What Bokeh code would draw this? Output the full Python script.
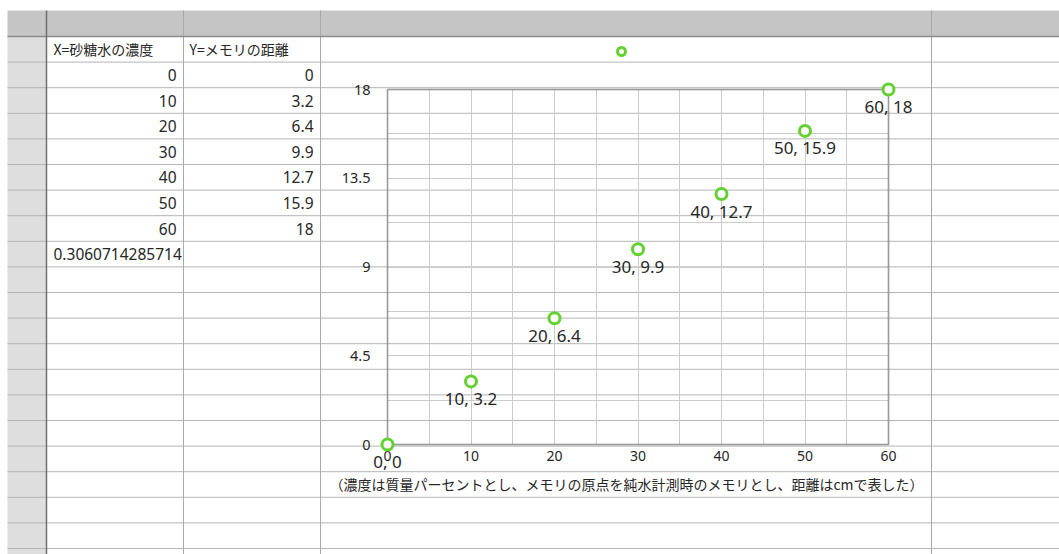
import numpy as np
from bokeh.plotting import figure
from bokeh.models import (Range1d, LinearAxis, Grid, SingleIntervalTicker, BoxAnnotation,
                          ColumnDataSource, Legend, LegendItem, NumeralTickFormatter)
from bokeh.core.properties import value
from bokeh.embed import file_html
from bokeh.resources import INLINE

# measurements: sugar-water concentration (%) vs. scale reading (cm)
concentration = [0, 10, 20, 30, 40, 50, 60]
distance = [0, 3.2, 6.4, 9.9, 12.7, 15.9, 18]

x_header = "X=砂糖水の濃度"
y_header = "Y=メモリの距離"
note = "（濃度は質量パーセントとし、メモリの原点を純水計測時のメモリとし、距離はcmで表した）"

# axis extents and tick spacing
X_LO, X_HI, X_STEP, X_GRID = 0, 60, 10, 5
Y_LO, Y_HI, Y_STEP, Y_GRID = 0, 18, 4.5, 2.25

# least-squares slope shown under the table
xa = np.array(concentration, dtype=float)
ya = np.array(distance, dtype=float)
slope = ((xa - xa.mean()) * (ya - ya.mean())).sum() / ((xa - xa.mean()) ** 2).sum()
slope_text = f"{slope:.13f}"

# ---- page layout (pixels) ----
W, H = 1059, 554
PLOT_L, PLOT_R, PLOT_T, PLOT_B = 387, 888, 89, 444
SHEET_L, HEAD_T, HEAD_B = 7, 10, 36
ROW_H = 25.6
ROWHDR_R = 46
COL_LINES = [183, 320, 931]
COL1_TXT_L, COL1_TXT_R = 53, 176
COL2_TXT_L, COL2_TXT_R = 189, 313

CJK_FONT = "Noto Sans CJK JP"
NUM_FONT = "Noto Sans"
GREEN = "#63d12f"
TEXT = "#262626"

# map the data axes so that the chart box lands on its place in the page
kx = (PLOT_R - PLOT_L) / (X_HI - X_LO)
ky = (PLOT_B - PLOT_T) / (Y_HI - Y_LO)
x_range = Range1d(X_LO - PLOT_L / kx, X_LO + (W - PLOT_L) / kx)
y_range = Range1d(Y_LO - (H - PLOT_B) / ky, Y_LO + PLOT_B / ky)

p = figure(width=W, height=H, x_range=x_range, y_range=y_range,
           x_axis_type=None, y_axis_type=None, toolbar_location=None,
           output_backend="svg", min_border=0, outline_line_color=None,
           background_fill_color="white", border_fill_color="white")

# pixel coordinate system for the spreadsheet behind the chart
p.extra_x_ranges = {"px": Range1d(0, W)}
p.extra_y_ranges = {"px": Range1d(H, 0)}
PX = dict(x_range_name="px", y_range_name="px", level="underlay")

# header bar and row-number column
p.quad(left=[SHEET_L], right=[W], top=[HEAD_T], bottom=[HEAD_B],
       fill_color="#c5c5c5", line_color=None, **PX)
p.quad(left=[SHEET_L], right=[ROWHDR_R], top=[HEAD_B], bottom=[H],
       fill_color="#dedede", line_color=None, **PX)

# row lines
n_lines = int((H - HEAD_B) // ROW_H)
row_y = [HEAD_B + ROW_H * k for k in range(1, n_lines + 1)]
p.segment(x0=[SHEET_L] * len(row_y), x1=[W] * len(row_y), y0=row_y, y1=row_y,
          line_color="#b4b4b4", line_width=1, **PX)
# column lines
p.segment(x0=COL_LINES, x1=COL_LINES, y0=[HEAD_T] * len(COL_LINES), y1=[H] * len(COL_LINES),
          line_color="#a9a9a9", line_width=1, **PX)
# heavier borders of header row and row-number column
p.segment(x0=[SHEET_L], x1=[W], y0=[HEAD_B], y1=[HEAD_B],
          line_color="#8a8a8a", line_width=1.5, **PX)
p.segment(x0=[ROWHDR_R], x1=[ROWHDR_R], y0=[HEAD_T], y1=[H],
          line_color="#6f6f6f", line_width=1.5, **PX)

# table cells
TXT = dict(text_font_size="14px", text_color=TEXT, text_baseline="middle")
NUM = dict(text_font=value(NUM_FONT), text_font_size="15.5px", text_color=TEXT,
           text_baseline="middle")
row_c = [HEAD_B + ROW_H * (i + 0.5) for i in range(len(concentration) + 2)]
p.text(x=[COL1_TXT_L, COL2_TXT_L], y=[row_c[0], row_c[0]], text=[x_header, y_header],
       text_align="left", text_font=value(CJK_FONT), **TXT, **PX)
p.text(x=[COL1_TXT_R] * len(concentration), y=row_c[1:len(concentration) + 1],
       text=[f"{v:g}" for v in concentration], text_align="right", **NUM, **PX)
p.text(x=[COL2_TXT_R] * len(distance), y=row_c[1:len(distance) + 1],
       text=[f"{v:g}" for v in distance], text_align="right", **NUM, **PX)
p.text(x=[COL1_TXT_L], y=[row_c[len(concentration) + 1]], text=[slope_text],
       text_align="left", **NUM, **PX)

# note under the chart
p.text(x=[626], y=[483], text=[note], text_align="center",
       text_font=value(CJK_FONT), **TXT, **PX)

# ---- chart ----
xgrid = Grid(dimension=0, ticker=SingleIntervalTicker(interval=X_GRID),
             bounds=(X_LO, X_HI), cross_bounds=(Y_LO, Y_HI),
             grid_line_color="#cccccc", grid_line_width=1)
ygrid = Grid(dimension=1, ticker=SingleIntervalTicker(interval=Y_GRID),
             bounds=(Y_LO, Y_HI), cross_bounds=(X_LO, X_HI),
             grid_line_color="#cccccc", grid_line_width=1)
p.add_layout(xgrid)
p.add_layout(ygrid)

AX = dict(axis_line_color=None, major_tick_line_color=None, minor_tick_line_color=None,
          major_label_text_font=NUM_FONT, major_label_text_color=TEXT,
          formatter=NumeralTickFormatter(format="0.[0]"))
xaxis = LinearAxis(fixed_location=Y_LO, bounds=(X_LO, X_HI),
                   ticker=SingleIntervalTicker(interval=X_STEP),
                   major_label_standoff=0, major_label_text_font_size="14px", **AX)
yaxis = LinearAxis(fixed_location=X_LO, bounds=(Y_LO, Y_HI),
                   ticker=SingleIntervalTicker(interval=Y_STEP),
                   major_label_standoff=11, major_label_text_font_size="14.5px", **AX)
p.add_layout(xaxis, "below")
p.add_layout(yaxis, "left")

# chart box
p.add_layout(BoxAnnotation(left=X_LO, right=X_HI, bottom=Y_LO, top=Y_HI,
                           fill_color=None, line_color="#2b2b2b", line_width=2))

src = ColumnDataSource(dict(
    x=concentration, y=distance,
    lbl=[f"{a:g}, {b:g}" for a, b in zip(concentration, distance)],
))
p.text(x="x", y="y", text="lbl", source=src, text_align="center",
       text_baseline="middle", y_offset=17, text_font=value(NUM_FONT),
       text_font_size="17px", text_color=TEXT)
pts = p.scatter(x="x", y="y", source=src, size=11, line_width=3,
                line_color=GREEN, fill_color="white", level="overlay")

legend = Legend(items=[LegendItem(label=" ", renderers=[pts])],
                location=(611, H - 61), padding=0, margin=0, spacing=0,
                glyph_width=20, glyph_height=20, label_width=0, label_height=0,
                label_standoff=0, label_text_font_size="1px",
                background_fill_alpha=0, border_line_color=None)
p.add_layout(legend)

open("out.html", "w").write(file_html(p, INLINE))
